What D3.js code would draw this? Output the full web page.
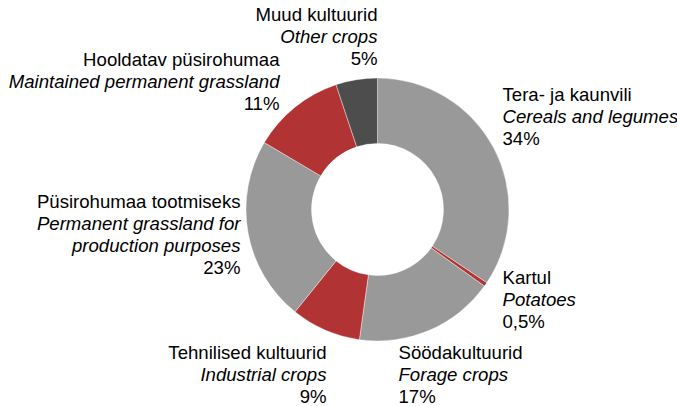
<!DOCTYPE html>
<meta charset="utf-8">
<script src="https://d3js.org/d3.v7.min.js"></script>
<style>
  body { margin: 0; background: #fff; }
  text { font-family: "Liberation Sans", Arial, sans-serif; font-size: 18.6px; fill: #000; }
</style>
<div id="my_dataviz"></div>
<script>

// categories (Estonian / English) and shares, clockwise from 12 o'clock
var namesEt = ["Tera- ja kaunvili", "Kartul", "Söödakultuurid", "Tehnilised kultuurid",
               "Püsirohumaa tootmiseks", "Hooldatav püsirohumaa", "Muud kultuurid"];
var namesEn = [["Cereals and legumes"], ["Potatoes"], ["Forage crops"], ["Industrial crops"],
               ["Permanent grassland for", "production purposes"], ["Maintained permanent grassland"], ["Other crops"]];
var shares = [34.4, 0.5, 17.3, 8.6, 22.7, 11.4, 5.1];

// slice colours
var sliceColors = ["#999999", "#b23333", "#999999", "#b23333", "#999999", "#b23333", "#4d4d4d"];

// label anchors, relative to the donut centre
var labelPos = [
  {dx: 125, dy: -109, anchor: "start"},
  {dx: 125, dy: 74, anchor: "start"},
  {dx: 21, dy: 149, anchor: "start"},
  {dx: -51, dy: 149, anchor: "end"},
  {dx: -137, dy: -2, anchor: "end"},
  {dx: -98, dy: -144, anchor: "end"},
  {dx: 0, dy: -189, anchor: "end"}
];

var width = 677, height = 406;
var cx = 377.5, cy = 209.5, outerR = 131.5, innerR = 66;
var lineH = 22;

var svg = d3.select("#my_dataviz")
  .append("svg")
    .attr("width", width)
    .attr("height", height);

var data = shares.map(function(v, i) {
  return {et: namesEt[i], en: namesEn[i], value: v, color: sliceColors[i], pos: labelPos[i]};
});

var pie = d3.pie()
  .sort(null)
  .value(function(d) { return d.value; });

var arc = d3.arc()
  .innerRadius(innerR)
  .outerRadius(outerR);

var g = svg.append("g")
  .attr("transform", "translate(" + cx + "," + cy + ")");

g.selectAll("path")
  .data(pie(data))
  .enter()
  .append("path")
    .attr("d", arc)
    .style("fill", function(d) { return d.data.color; })
    .style("stroke", "#ffffff")
    .style("stroke-width", 0.4);

var fmtPct = function(v) {
  if (v < 1) return d3.format(".1f")(v).replace(".", ",") + "%";
  return Math.round(v) + "%";
};

// labels: Estonian name, English name in italics, share
var labels = g.selectAll(".lbl")
  .data(data)
  .enter()
  .append("text")
    .attr("class", "lbl")
    .attr("text-anchor", function(d) { return d.pos.anchor; })
    .attr("transform", function(d) { return "translate(" + d.pos.dx + "," + d.pos.dy + ")"; });

labels.each(function(d) {
  var t = d3.select(this);
  var lines = [{s: d.et, it: false}]
    .concat(d.en.map(function(s) { return {s: s, it: true}; }))
    .concat([{s: fmtPct(d.value), it: false}]);
  lines.forEach(function(l, i) {
    t.append("tspan")
      .attr("x", 0)
      .attr("y", i * lineH)
      .style("font-style", l.it ? "italic" : "normal")
      .text(l.s);
  });
});

</script>
